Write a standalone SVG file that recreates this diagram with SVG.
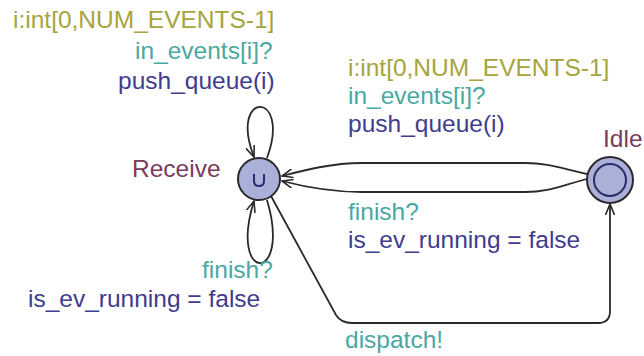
<svg xmlns="http://www.w3.org/2000/svg" width="644" height="356" viewBox="0 0 644 356">
  <style>
    text { font-family: "Liberation Sans", Arial, sans-serif; font-size: 24.5px; }
    .select { fill: #a6a43c; }
    .sync { fill: #4aa8a2; }
    .update { fill: #403c8e; }
    .name { fill: #7a3b5c; }
    .loc { fill: #aab0d8; stroke: #2a2a2e; stroke-width: 2; }
    .edge { fill: none; stroke: #2a2a2a; stroke-width: 1.8; }
  </style>
  <defs>
    <marker id="arrow" viewBox="0 0 12 10" refX="11" refY="5" markerWidth="12" markerHeight="10" markerUnits="userSpaceOnUse" orient="auto">
      <path d="M0,0.5 L11,5 L0,9.5" fill="none" stroke="#2a2a2a" stroke-width="1.6"/>
    </marker>
  </defs>
  <rect width="644" height="356" fill="#ffffff"/>

  <g id="connectors">
    <!-- self loop above Receive -->
    <path class="edge" d="M267,158 C292,90 228,90 254,157" marker-end="url(#arrow)"/>
    <!-- self loop below Receive -->
    <path class="edge" d="M267,200 C292,284 228,284 254,201" marker-end="url(#arrow)"/>
    <!-- Idle to Receive, upper -->
    <path class="edge" d="M587,174 C560,168 548,163 525,163 L362,163 C332,163 305,170 282,176" marker-end="url(#arrow)"/>
    <!-- Idle to Receive, lower -->
    <path class="edge" d="M587,179 C560,186 548,192 525,192 L362,192 C332,192 305,187 282,181" marker-end="url(#arrow)"/>
    <!-- Receive to Idle (dispatch) -->
    <path class="edge" d="M271,196 L336,315 Q341,323 352,323 L598,323 Q610,323 610,311 L610,204" marker-end="url(#arrow)"/>
  </g>

  <g id="receive">
    <circle class="loc" cx="259" cy="179" r="21"/>
    <path d="M254,174 L254,181 Q254,186 259,186 Q264,186 264,181 L264,174" fill="none" stroke="#2c2c6a" stroke-width="2"/>
    <text class="name" x="132" y="177">Receive</text>
  </g>

  <g id="idle">
    <circle class="loc" cx="610" cy="180" r="23"/>
    <circle cx="610" cy="180" r="16" fill="none" stroke="#2c2c6a" stroke-width="2"/>
    <text class="name" x="603" y="147">Idle</text>
  </g>

  <g id="labels">
    <text class="select" x="13" y="28">i:int[0,NUM_EVENTS-1]</text>
    <text class="sync" x="135" y="59">in_events[i]?</text>
    <text class="update" x="118" y="89">push_queue(i)</text>

    <text class="select" x="348" y="76">i:int[0,NUM_EVENTS-1]</text>
    <text class="sync" x="348" y="104">in_events[i]?</text>
    <text class="update" x="348" y="132">push_queue(i)</text>

    <text class="sync" x="348" y="220">finish?</text>
    <text class="update" x="348" y="248">is_ev_running = false</text>

    <text class="sync" x="202" y="278">finish?</text>
    <text class="update" x="28" y="307">is_ev_running = false</text>

    <text class="sync" x="345" y="348">dispatch!</text>
  </g>
</svg>
